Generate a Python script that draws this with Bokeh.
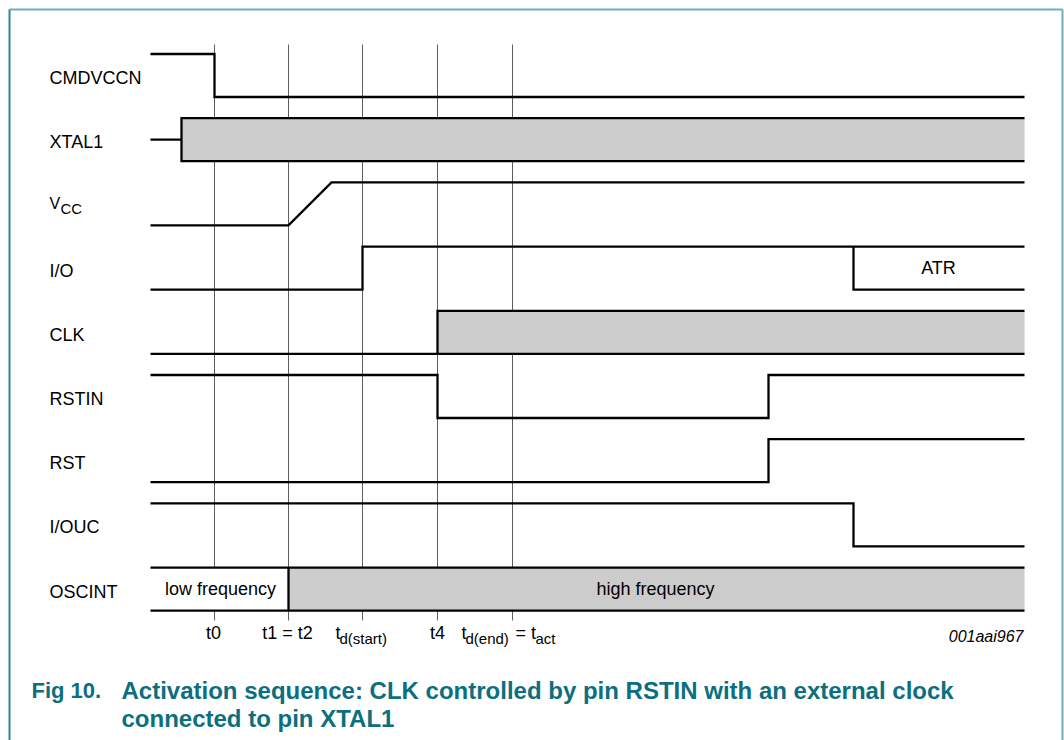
from bokeh.plotting import figure
from bokeh.models import Range1d
from bokeh.embed import file_html
from bokeh.resources import INLINE
from bokeh.core.properties import value

# ---------------- data (time axis in diagram units) ----------------
signal_labels = ["CMDVCCN", "XTAL1", "V", "I/O", "CLK", "RSTIN", "RST", "I/OUC", "OSCINT"]
event_times = [214, 288, 362, 437, 512]
t_begin = 150
t_end = 1024

cmdvccn_t = [150, 214, 214, 1024]
cmdvccn_v = [1, 1, 0, 0]
xtal1_t = [150, 181]
xtal1_v = [0.5, 0.5]
xtal1_clock = [181, 1024]
vcc_t = [150, 288, 331, 1024]
vcc_v = [0, 0, 1, 1]
io_t = [150, 362, 362, 1024]
io_v = [0, 0, 1, 1]
atr_t = [853, 853, 1024]
atr_v = [1, 0, 0]
clk_t = [150, 437]
clk_v = [0, 0]
clk_clock = [437, 1024]
rstin_t = [150, 437, 437, 768, 768, 1024]
rstin_v = [1, 1, 0, 0, 1, 1]
rst_t = [150, 768, 768, 1024]
rst_v = [0, 0, 1, 1]
iouc_t = [150, 853, 853, 1024]
iouc_v = [1, 1, 0, 0]
oscint_low = [150, 288]
oscint_high = [288, 1024]

# ---------------- layout ----------------
ROW0, PITCH, SWING = 53.5, 64.2, 43.0
FONT = value("Liberation Sans")


def hi(r):
    return ROW0 + r * PITCH


def lo(r):
    return hi(r) + SWING


def ys(r, levels):
    return [hi(r) + (1 - l) * SWING for l in levels]


p = figure(width=1064, height=740, x_range=Range1d(0, 1064), y_range=Range1d(740, 0),
           x_axis_type=None, y_axis_type=None, toolbar_location=None,
           output_backend="svg", min_border=0, outline_line_color=None)
p.grid.visible = False
p.background_fill_color = "white"

# frame
p.segment(x0=[9, 9, 1062], y0=[9, 9, 9], x1=[1062, 9, 1062], y1=[9, 740, 740],
          line_color=["#6fb0bd", "#2f8596", "#6fb0bd"], line_width=2)

# event grid lines
p.segment(x0=event_times, y0=[44] * len(event_times), x1=event_times,
          y1=[620] * len(event_times), line_color="#5e5e5e", line_width=1)

# filled areas
p.quad(left=[xtal1_clock[0], clk_clock[0], oscint_high[0]],
       right=[xtal1_clock[1], clk_clock[1], oscint_high[1]],
       top=[hi(1), hi(4), hi(8)], bottom=[lo(1), lo(4), lo(8)],
       fill_color="#cccccc", line_color=None)
p.quad(left=[oscint_low[0], atr_t[0]], right=[oscint_low[1], atr_t[2]],
       top=[hi(8), hi(3)], bottom=[lo(8), lo(3)], fill_color="white", line_color=None)

# waveforms
xs_all = [cmdvccn_t, xtal1_t, vcc_t, io_t, atr_t, clk_t, rstin_t, rst_t, iouc_t]
ys_all = [ys(0, cmdvccn_v), ys(1, xtal1_v), ys(2, vcc_v), ys(3, io_v), ys(3, atr_v),
          ys(4, clk_v), ys(5, rstin_v), ys(6, rst_v), ys(7, iouc_v)]
# box outlines
xs_all += [[xtal1_clock[1], xtal1_clock[0], xtal1_clock[0], xtal1_clock[1]],
           [clk_clock[1], clk_clock[0], clk_clock[0], clk_clock[1]],
           [oscint_low[0], oscint_high[1]], [oscint_low[0], oscint_high[1]],
           [oscint_high[0], oscint_high[0]]]
ys_all += [[hi(1), hi(1), lo(1), lo(1)],
           [hi(4), hi(4), lo(4), lo(4)],
           [hi(8), hi(8)], [lo(8), lo(8)], [hi(8), lo(8)]]
p.multi_line(xs=xs_all, ys=ys_all, line_color="black", line_width=2.3, line_join="miter")

# signal labels
rows = [i for i, s in enumerate(signal_labels) if s != "V"]
p.text(x=[49] * len(rows), y=[(hi(r) + lo(r)) / 2 + 2.5 for r in rows],
       text=[signal_labels[r] for r in rows], text_font=FONT, text_font_size="18px",
       text_baseline="middle", text_align="left", text_color="black")
p.text(x=[49], y=[(hi(2) + lo(2)) / 2 - 0.5], text=["V"], text_font=FONT,
       text_font_size="16px", text_baseline="middle", text_align="left")
p.text(x=[60], y=[(hi(2) + lo(2)) / 2 + 4.5], text=["CC"], text_font=FONT,
       text_font_size="15px", text_baseline="middle", text_align="left")

# state labels
p.text(x=[(oscint_low[0] + oscint_low[1]) / 2 + 1, 655, 938],
       y=[(hi(8) + lo(8)) / 2, (hi(8) + lo(8)) / 2, (hi(3) + lo(3)) / 2],
       text=["low frequency", "high frequency", "ATR"], text_font=FONT,
       text_font_size="18px", text_baseline="middle", text_align="center")

# time labels
TY = 632
p.text(x=[event_times[0] - 1, event_times[1] - 1, event_times[3]], y=[TY] * 3,
       text=["t0", "t1 = t2", "t4"], text_font=FONT, text_font_size="18px",
       text_baseline="middle", text_align="center")
p.text(x=[event_times[2] - 27, event_times[4] - 51, event_times[4] + 3], y=[TY] * 3,
       text=["t", "t", "= t"], text_font=FONT, text_font_size="18px",
       text_baseline="middle", text_align="left")
p.text(x=[event_times[2] - 23, event_times[4] - 47, event_times[4] + 23], y=[TY + 6] * 3,
       text=["d(start)", "d(end)", "act"], text_font=FONT, text_font_size="15px",
       text_baseline="middle", text_align="left")
p.text(x=[1023], y=[636], text=["001aai967"], text_font=FONT, text_font_size="16px",
       text_font_style="italic", text_baseline="middle", text_align="right")

# caption
CAP = "#0b6f80"
p.text(x=[31], y=[690], text=["Fig 10."], text_font=FONT, text_font_size="22px",
       text_font_style="bold", text_color=CAP, text_baseline="middle", text_align="left")
p.text(x=[121, 121], y=[690, 718],
       text=["Activation sequence: CLK controlled by pin RSTIN with an external clock",
             "connected to pin XTAL1"],
       text_font=FONT, text_font_size="24px", text_font_style="bold",
       text_color=CAP, text_baseline="middle", text_align="left")

open("out.html", "w").write(file_html(p, INLINE))
